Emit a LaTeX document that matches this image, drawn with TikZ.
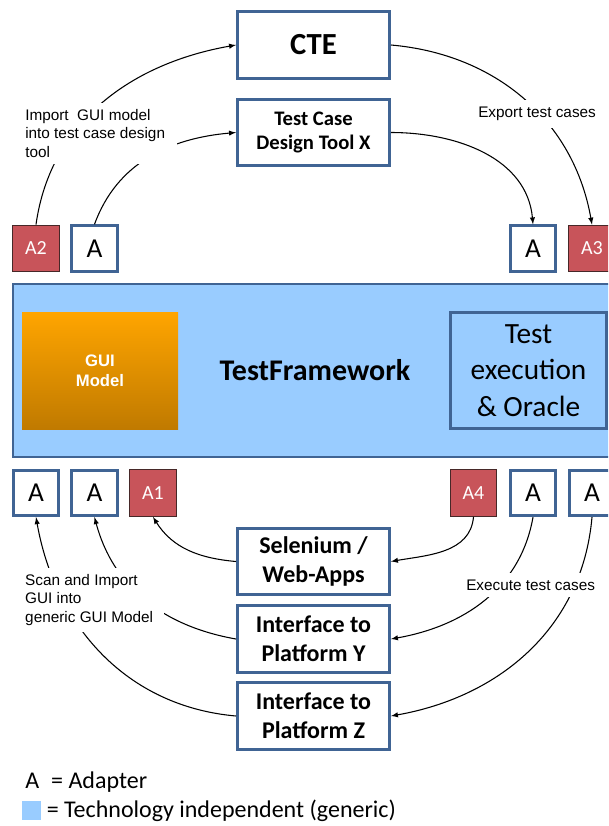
\documentclass[tikz,border=0pt]{standalone}
\usepackage{fontspec}
\setmainfont{Carlito}
\newfontfamily\arialfont{Liberation Sans}
\usetikzlibrary{arrows}

\definecolor{boxblue}{RGB}{64,100,148}
\definecolor{adred}{RGB}{200,84,90}
\definecolor{adedge}{RGB}{70,40,40}
\definecolor{skyblue}{RGB}{153,204,255}
\definecolor{guitop}{RGB}{255,165,0}
\definecolor{guibot}{RGB}{192,122,0}

\tikzset{
  tool/.style={draw=boxblue, line width=2.25pt, fill=white, minimum width=114pt, minimum height=50pt, inner sep=0pt, align=center, font=\bfseries\fontsize{18}{21.75}\selectfont},
  adapter/.style={draw=boxblue, line width=2.25pt, fill=white, minimum size=34pt, inner sep=0pt, font=\fontsize{20.5}{24}\selectfont},
  redadapter/.style={draw=adedge, line width=0.9pt, fill=adred, text=white, minimum size=35pt, inner sep=0pt, font=\fontsize{15}{18}\selectfont},
  note/.style={fill=white, align=left, anchor=west, inner xsep=3pt, inner ysep=5pt, font=\arialfont\fontsize{11.5}{13.9}\selectfont},
}

\begin{document}
\begin{tikzpicture}[x=0.75pt, y=0.75pt]
\useasboundingbox (0,0) rectangle (608,-826);
\clip (0,0) rectangle (608,-826);
% framework
\node [draw=boxblue, line width=2pt, fill=skyblue, minimum width=453pt, minimum height=129.75pt, font=\bfseries\fontsize{22.5}{26}\selectfont] (frame) at (315,-370.5) {TestFramework};
\node [top color=guitop, bottom color=guibot, minimum width=117pt, minimum height=87.75pt, text=white, align=center, font=\arialfont\bfseries\fontsize{12.5}{15}\selectfont] (gui) at (100,-370.5) {GUI\\Model};
\node [draw=boxblue, line width=2.25pt, minimum width=117pt, minimum height=87pt, align=center, font=\fontsize{22}{27.5}\selectfont] (exec) at (528.5,-370.5) {Test\\execution\\\& Oracle};
% tools
\node [tool, font=\bfseries\fontsize{23}{26}\selectfont] (cte) at (313.5,-45) {CTE};
\node [tool, font=\bfseries\fontsize{15.5}{18}\selectfont] (tcd) at (313.5,-132.5) {Test Case\\Design Tool X};
\node [tool] (sel) at (313.5,-561.5) {Selenium /\\Web-Apps};
\node [tool] (ify) at (313.5,-639) {Interface to\\Platform Y};
\node [tool] (ifz) at (313.5,-716) {Interface to\\Platform Z};
% adapters
\node [redadapter] (a2) at (36,-248.5) {A2};
\node [adapter] (atl) at (94.5,-248.5) {A};
\node [adapter] (atr) at (533,-248.5) {A};
\node [redadapter] (a3) at (592,-248.5) {A3};
\node [adapter] (abl1) at (36,-493) {A};
\node [adapter] (abl2) at (94.5,-493) {A};
\node [redadapter] (a1) at (153,-493) {A1};
\node [redadapter] (a4) at (473.5,-493) {A4};
\node [adapter] (abr1) at (533,-493) {A};
\node [adapter] (abr2) at (592,-493) {A};
% flows
\draw [thick, -latex] (a2.north) to[out=82, in=190] (cte.west);
\draw [thick, -latex] (atl.north) to[out=70, in=185] (tcd.west);
\draw [thick, -latex] (cte.east) to[out=-5, in=100] (a3.north);
\draw [thick, -latex] (tcd.east) to[out=0, in=95] (atr.north);
\draw [thick, -latex] (sel.west) to[out=175, in=-58] (a1.south);
\draw [thick, -latex] (a4.south) to[out=-95, in=10] (sel.east);
\draw [thick, -latex] (abr1.south) to[out=-100, in=10] (ify.east);
\draw [thick, -latex] (abr2.south) to[out=-95, in=10] (ifz.east);
\draw [thick, -latex] (ify.west) to[out=170, in=-75] (abl2.south);
\draw [thick, -latex] (ifz.west) to[out=175, in=-80] (abl1.south);
% notes
\node [note, inner xsep=9pt] (importnote) at (13,-133.5) {Import\ \ GUI model\\into test case design\\tool};
\node [note] (exportnote) at (474,-114) {Export test cases};
\node [note, inner xsep=8pt] (scannote) at (14.3,-600) {Scan and Import\\GUI into\\generic GUI Model};
\node [note] (execnote) at (462,-585) {Execute test cases};
% legend
\node [anchor=west, inner sep=0pt, font=\fontsize{18}{22}\selectfont] (adkey) at (25,-781.7) {A\enspace= Adapter};
\node [fill=skyblue, minimum width=13.9pt, minimum height=14.25pt, inner sep=0pt] (swatch) at (31.75,-810.5) {};
\node [anchor=west, inner sep=0pt, font=\fontsize{18}{22}\selectfont] (genkey) at (46.5,-810.7) {= Technology independent (generic)};
\end{tikzpicture}
\end{document}
